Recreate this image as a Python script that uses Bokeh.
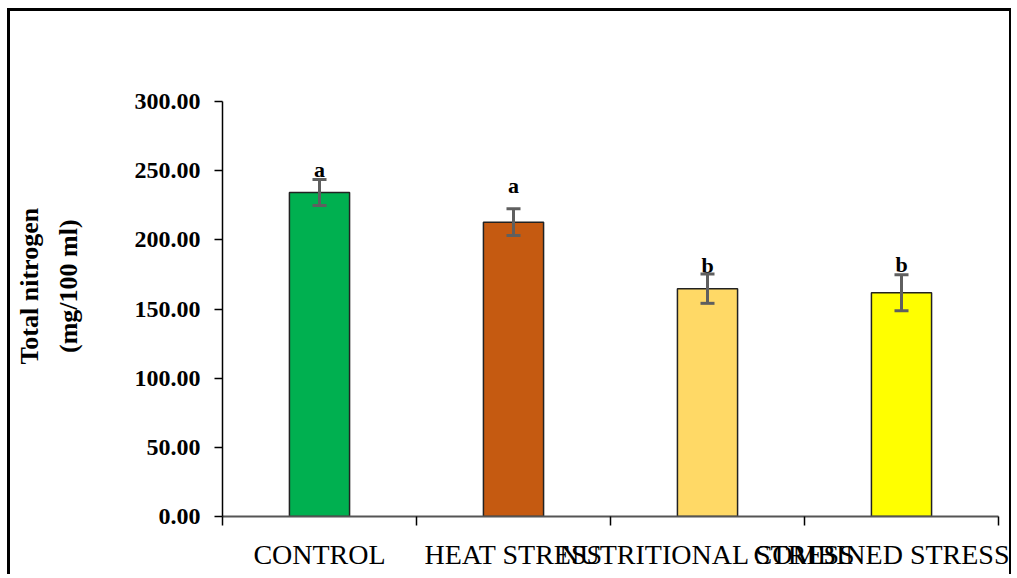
from bokeh.plotting import figure
from bokeh.models import (ColumnDataSource, Range1d, FixedTicker, LinearAxis,
                          Whisker, TeeHead, PrintfTickFormatter)
from bokeh.core.properties import value
from bokeh.embed import file_html
from bokeh.resources import INLINE

categories = ["CONTROL", "HEAT STRESS", "NUTRITIONAL STRESS", "COMBINED STRESS"]
means = [234.2, 212.8, 164.7, 161.8]
errors = [9.4, 9.6, 10.6, 13.0]
letters = ["a", "a", "b", "b"]
letter_y = [250.5, 239.3, 181.5, 182.5]
colors = ["#00B050", "#C55A11", "#FFD966", "#FFFF00"]
y_ticks = [0, 50, 100, 150, 200, 250, 300]
y_title = ["Total nitrogen", "(mg/100 ml)"]

xs = [i + 0.5 for i in range(len(categories))]
src = ColumnDataSource(dict(
    x=xs, top=means, color=colors,
    upper=[m + e for m, e in zip(means, errors)],
    lower=[m - e for m, e in zip(means, errors)],
    letter=letters, ly=letter_y,
))

FONT = "Liberation Serif"
NB = "\u00a0"

p = figure(width=1004, height=566, output_backend="svg", toolbar_location=None,
           x_range=Range1d(0, len(categories)), y_range=Range1d(0, 300),
           x_axis_type=None, min_border_left=212, min_border_right=16,
           min_border_top=90, min_border_bottom=61)
p.styles = {"margin-left": "7px", "margin-top": "8px",
            "border-top": "3px solid black", "border-left": "3px solid black",
            "border-right": "2px solid black"}
p.outline_line_color = None
p.grid.visible = False
p.background_fill_color = "white"
p.border_fill_color = "white"

# y axis
ya = p.yaxis[0]
ya.ticker = FixedTicker(ticks=y_ticks)
ya.formatter = PrintfTickFormatter(format="%.2f")
ya.major_label_text_font = FONT
ya.major_label_text_font_style = "bold"
ya.major_label_text_font_size = "24px"
ya.major_label_text_color = "black"
ya.major_tick_out = 8
ya.major_tick_in = 0
ya.minor_tick_out = 0
ya.minor_tick_in = 0
ya.major_label_standoff = 14
ya.axis_line_color = "black"
ya.axis_line_width = 1.5
ya.major_tick_line_width = 1.5
pad = NB * 7
ya.axis_label = "\n".join(pad + t for t in y_title)
ya.axis_label_text_font = FONT
ya.axis_label_text_font_style = "bold"
ya.axis_label_text_font_size = "26px"
ya.axis_label_text_color = "black"
ya.axis_label_text_line_height = 1.33
ya.axis_label_standoff = 49

# x axis with boundary ticks
xa = LinearAxis(ticker=FixedTicker(ticks=list(range(len(categories) + 1))),
                major_label_text_font_size="0px", major_tick_out=9, major_tick_in=0,
                minor_tick_out=0, minor_tick_in=0, major_label_standoff=0,
                axis_line_color="#555555", axis_line_width=2, major_tick_line_width=1.5)
xa.major_label_overrides = {i: "" for i in range(len(categories) + 1)}
p.add_layout(xa, "below")

# category labels axis
la = LinearAxis(ticker=FixedTicker(ticks=xs), axis_line_color=None,
                major_tick_out=0, major_tick_in=0, minor_tick_out=0, minor_tick_in=0,
                major_label_text_font=FONT, major_label_text_font_size="28px",
                major_label_text_color="black", major_label_standoff=13)
la.major_label_overrides = {x: c for x, c in zip(xs, categories)}
p.add_layout(la, "below")

p.vbar(x="x", top="top", bottom=0, width=0.31, fill_color="color",
       line_color="#222222", line_width=1.5, source=src)

w = Whisker(base="x", upper="upper", lower="lower", source=src, level="overlay",
            line_color="#5f5f5f", line_width=3,
            upper_head=TeeHead(size=14, line_color="#5f5f5f", line_width=3),
            lower_head=TeeHead(size=14, line_color="#5f5f5f", line_width=3))
p.add_layout(w)

p.text(x="x", y="ly", text="letter", source=src, text_align="center",
       text_baseline="middle", text_font=value(FONT), text_font_style="bold",
       text_font_size="22px", text_color="black")

open("out.html", "w").write(file_html(p, INLINE))
